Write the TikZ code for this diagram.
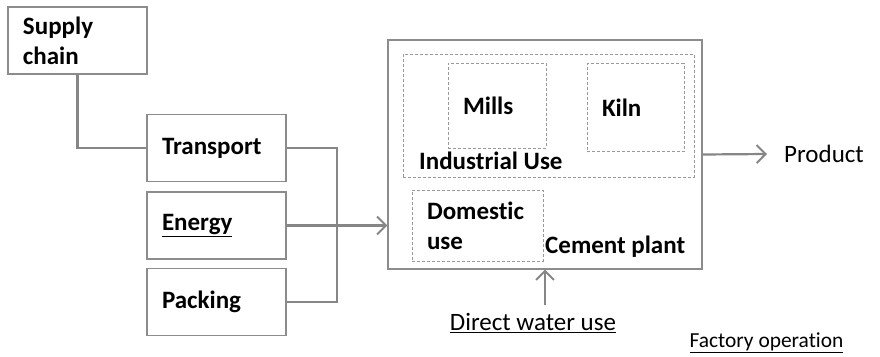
\documentclass[tikz,border=0pt]{standalone}
\usepackage{fontspec}
\setmainfont{Carlito}[Ligatures=NoCommon]
\usetikzlibrary{arrows.meta}
\tikzset{
  box/.style={draw=gray!90,line width=1.1pt,minimum width=139pt,minimum height=67pt,
    text width=109pt,inner xsep=15pt,align=left,font=\fontsize{25}{30}\selectfont\bfseries},
  dbox/.style={draw=gray!80,dashed,line width=0.8pt,dash pattern=on 3pt off 2pt},
  lbl/.style={inner sep=0pt,font=\fontsize{25}{30}\selectfont\bfseries},
  arr/.style={-{Straight Barb[length=9pt,width=18pt,line width=2pt]}},
}
\begin{document}
\begin{tikzpicture}[x=1pt,y=-1pt,font=\fontsize{25}{30}\selectfont]
\useasboundingbox (0,0) rectangle (880,356);
\begin{scope}[every node/.style={box}]
  \node (supply) at (77.5,40.5) {Supply\\chain};
  \node (transport) at (216.5,148) {Transport};
  \node (energy) at (216.5,225.5) {\underline{Energy}};
  \node (packing) at (216.5,302) {Packing};
\end{scope}

% cement plant and its parts
\node[draw=gray!90,line width=1.1pt,minimum width=314pt,minimum height=229pt] (plant) at (545,154.5) {};
\node[dbox,minimum width=291pt,minimum height=123pt] (industrial) at (548.5,115.5) {};
\node[dbox,minimum width=98pt,minimum height=85pt,text width=68pt,inner xsep=15pt,align=left,font=\fontsize{25}{30}\selectfont\bfseries] (mills) at (497,105.5) {Mills};
\node[dbox,minimum width=97pt,minimum height=88pt,text width=67pt,inner xsep=15pt,align=left,font=\fontsize{25}{30}\selectfont\bfseries] (kiln) at (635.5,107.5) {Kiln};
\node[dbox,minimum width=131pt,minimum height=71pt,text width=101pt,inner xsep=15pt,align=left,font=\fontsize{25}{30}\selectfont\bfseries] (domestic) at (477.5,225.5) {Domestic\\use};
\node[lbl,anchor=west] (induse) at (419,161) {Industrial Use};
\node[lbl,anchor=west] (cement) at (545,247) {Cement plant};

\node[inner sep=0pt,anchor=west] (product) at (784,154) {Product};
\node[inner sep=0pt] (water) at (533,323) {\underline{Direct water use}};
\node[inner sep=0pt,font=\fontsize{21.4}{24}\selectfont] (factory) at (766.5,343) {\underline{Factory operation}};

\coordinate (join) at (337,225.5);

\begin{scope}[draw=gray!95,line width=2.2pt]
  \draw (supply.south) |- (transport.west);
  \draw (transport.east) -| (join) |- (packing.east);
  \draw[arr] (energy.east) -- (energy.east -| plant.west);
  \draw[arr] (plant.east) -- ([xshift=-17pt]product.west);
  \draw[arr] (cement.west |- water.north) ++(0,-8) -- (cement.west |- plant.south);
\end{scope}
\end{tikzpicture}
\end{document}
